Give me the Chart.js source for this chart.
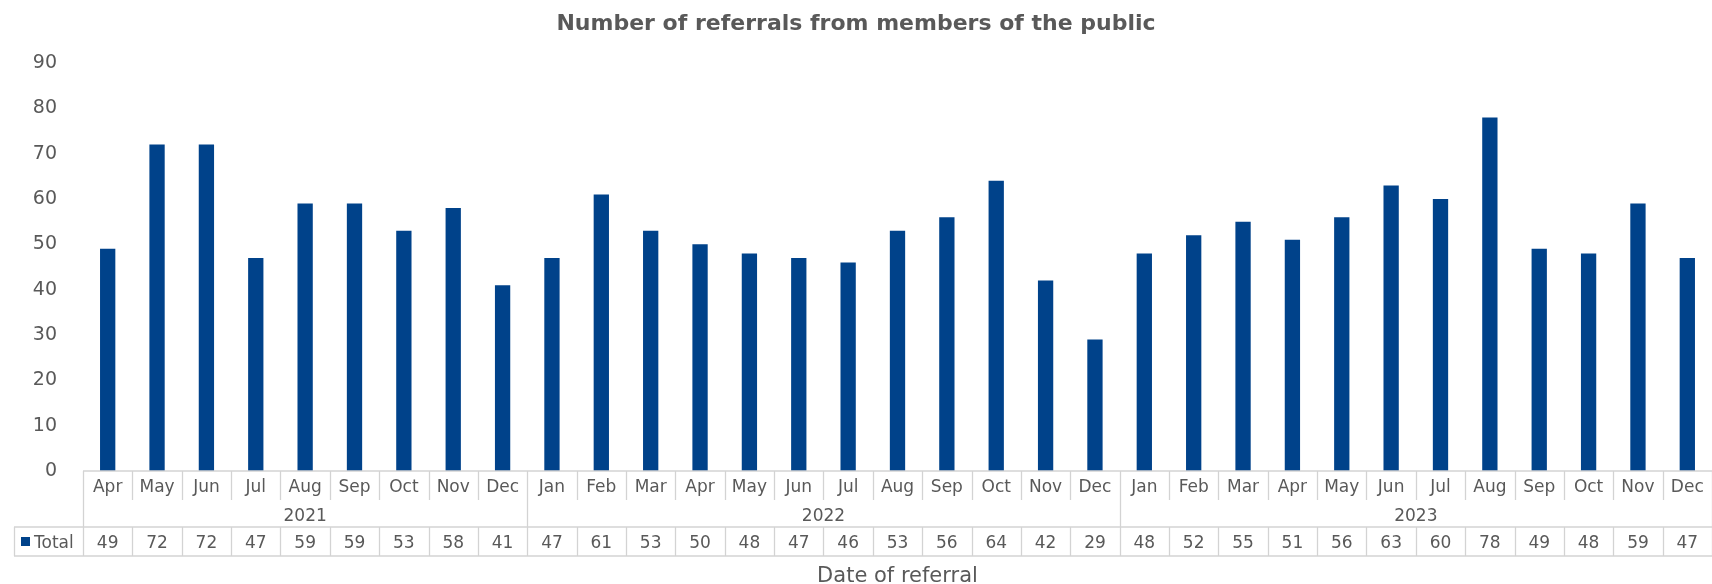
<!DOCTYPE html>
<html>
<head>
<meta charset="utf-8">
<script src="https://cdn.jsdelivr.net/npm/chart.js@4.4.1/dist/chart.umd.min.js"></script>
<style>
  html, body { margin: 0; padding: 0; background: #fff; }
  #wrap { width: 1712px; height: 584px; position: relative; }
</style>
</head>
<body>
<div id="wrap"><canvas id="chart"></canvas></div>
<script>
// Data
const months = [
    'Apr', 'May', 'Jun', 'Jul', 'Aug', 'Sep', 'Oct', 'Nov', 'Dec',
    'Jan', 'Feb', 'Mar', 'Apr', 'May', 'Jun', 'Jul', 'Aug', 'Sep', 'Oct', 'Nov', 'Dec',
    'Jan', 'Feb', 'Mar', 'Apr', 'May', 'Jun', 'Jul', 'Aug', 'Sep', 'Oct', 'Nov', 'Dec'
];
const years = ['2021', '2022', '2023'];
const monthsPerYear = [9, 12, 12];
const totals = [
    49, 72, 72, 47, 59, 59, 53, 58, 41,
    47, 61, 53, 50, 48, 47, 46, 53, 56, 64, 42, 29,
    48, 52, 55, 51, 56, 63, 60, 78, 49, 48, 59, 47
];
const seriesName = 'Total';
const yTicks = [0, 10, 20, 30, 40, 50, 60, 70, 80, 90];

const BAR_COLOR = '#00428a';
const TEXT = '#595959';
const LINE = '#d3d3d3';
const FONT = "'DejaVu Sans', Verdana, sans-serif";

// draws the Excel-style data table under the plot
const dataTable = {
    id: 'dataTable',
    afterDraw(chart) {
        const ctx = chart.ctx;
        const xs = chart.scales.x;
        const area = chart.chartArea;
        const n = months.length;
        const w = (area.right - area.left) / n;
        const edge = i => area.left + i * w;

        const top = area.bottom;
        const monthBottom = top + 29;
        const yearBottom = top + 56;
        const totalBottom = top + 85;
        const legendLeft = 14;

        ctx.save();
        ctx.strokeStyle = LINE;
        ctx.lineWidth = 1.3;

        const line = (x1, y1, x2, y2) => {
            ctx.beginPath();
            ctx.moveTo(x1, y1);
            ctx.lineTo(x2, y2);
            ctx.stroke();
        };

        // horizontal lines
        line(area.left, top, area.right, top);
        line(legendLeft, yearBottom, area.right, yearBottom);
        line(legendLeft, totalBottom, area.right, totalBottom);

        // year boundaries
        let yearStarts = [0];
        monthsPerYear.forEach((c, i) => yearStarts.push(yearStarts[i] + c));

        for (let i = 0; i <= n; i++) {
            const x = Math.round(edge(i)) + 0.5;
            if (yearStarts.includes(i)) {
                line(x, top, x, yearBottom);
            } else {
                line(x, top, x, monthBottom);
            }
            line(x, yearBottom, x, totalBottom);
        }
        line(legendLeft + 0.5, yearBottom, legendLeft + 0.5, totalBottom);

        ctx.fillStyle = TEXT;
        ctx.textAlign = 'center';
        ctx.textBaseline = 'alphabetic';
        ctx.font = '17px ' + FONT;

        months.forEach((m, i) => {
            const cx = xs.getPixelForValue(i);
            ctx.fillText(m, cx, top + 21);
            ctx.fillText(String(totals[i]), cx, yearBottom + 21);
        });

        years.forEach((y, i) => {
            const cx = (edge(yearStarts[i]) + edge(yearStarts[i + 1])) / 2;
            ctx.fillText(y, cx, top + 49.5);
        });

        // legend key
        ctx.fillStyle = BAR_COLOR;
        ctx.fillRect(21, yearBottom + 10, 9, 9);
        ctx.fillStyle = TEXT;
        ctx.textAlign = 'left';
        ctx.fillText(seriesName, 34, yearBottom + 21);

        // axis title
        ctx.textAlign = 'center';
        ctx.font = '21px ' + FONT;
        ctx.fillText('Date of referral', (area.left + area.right) / 2, 582);

        ctx.restore();
    }
};

const ctx = document.getElementById('chart').getContext('2d');
new Chart(ctx, {
    type: 'bar',
    data: {
        labels: months,
        datasets: [{
            label: seriesName,
            data: totals,
            backgroundColor: BAR_COLOR,
            categoryPercentage: 1,
            barPercentage: 0.31
        }]
    },
    options: {
        responsive: true,
        maintainAspectRatio: false,
        animation: false,
        layout: { padding: { left: 0, right: 0, top: 0, bottom: 113 } },
        plugins: {
            legend: { display: false },
            tooltip: { enabled: false },
            title: {
                display: true,
                text: 'Number of referrals from members of the public',
                color: TEXT,
                font: { family: FONT, size: 22, weight: 'bold' },
                padding: { top: 11, bottom: 25.6 }
            }
        },
        scales: {
            x: {
                display: false,
                offset: true
            },
            y: {
                min: 0,
                max: 90,
                afterBuildTicks: axis => { axis.ticks = yTicks.map(v => ({ value: v })); },
                afterFit: axis => { axis.width = 83; },
                grid: { display: false },
                border: { display: false },
                ticks: {
                    color: TEXT,
                    padding: 18,
                    font: { family: FONT, size: 19 }
                }
            }
        }
    },
    plugins: [dataTable]
});
</script>
</body>
</html>
